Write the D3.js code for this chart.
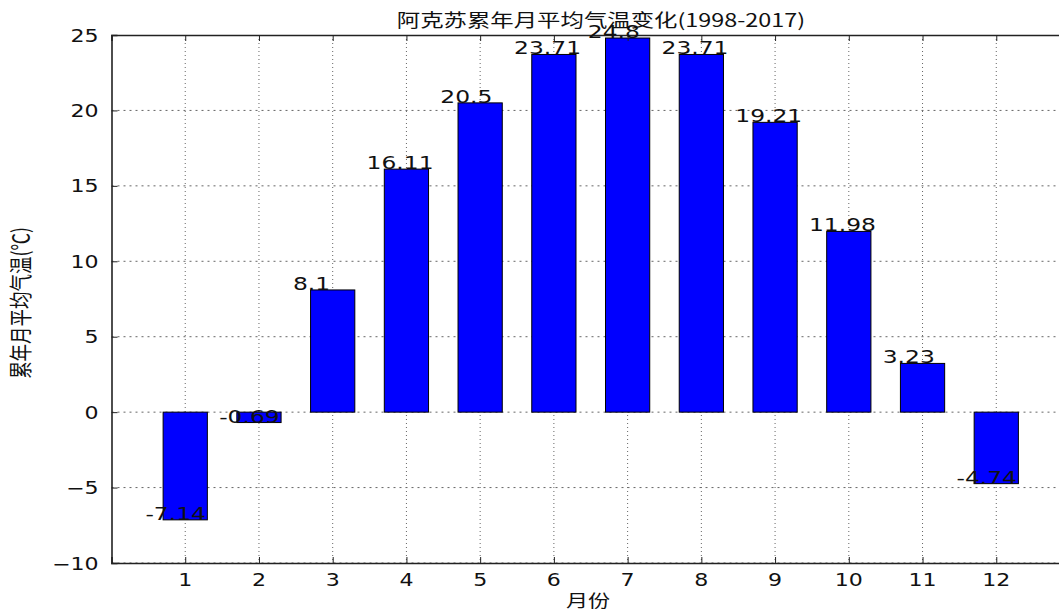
<!DOCTYPE html>
<html>
<head>
<meta charset="utf-8">
<script src="https://cdn.jsdelivr.net/npm/d3@7"></script>
<style>
  html, body { margin: 0; padding: 0; background: #fff; }
  svg { display: block; }
</style>
</head>
<body>
<svg id="chart" width="1059" height="611"></svg>
<script>
// Monthly mean temperature, Aksu, 1998-2017
const months = [1, 2, 3, 4, 5, 6, 7, 8, 9, 10, 11, 12];
const temps = [-7.14, -0.69, 8.1, 16.11, 20.5, 23.71, 24.8, 23.71, 19.21, 11.98, 3.23, -4.74];
const yTicks = [-10, -5, 0, 5, 10, 15, 20, 25];
const titleText = "阿克苏累年月平均气温变化(1998-2017)";
const xLabel = "月份";
const yLabel = "累年月平均气温(℃)";

const plotLeft = 111.5, plotRight = 1070, plotTop = 35, plotBottom = 563;
const SX = 1.3; // horizontal text stretch
const latin = "'DejaVu Sans', sans-serif";
const cjk = "'Noto Sans CJK SC', 'DejaVu Sans', sans-serif";

const svg = d3.select("#chart");
const x = d3.scaleLinear().domain([0, 13]).range([plotLeft, plotRight]);
const y = d3.scaleLinear().domain([-10, 25]).range([plotBottom, plotTop]);
const barW = x(0.6) - x(0);

function stretchedText(g, tx, ty, str, opts) {
  return g.append("text")
    .attr("transform", `translate(${tx},${ty}) scale(${SX},1)`)
    .attr("text-anchor", opts.anchor || "start")
    .attr("font-family", opts.family || latin)
    .attr("font-size", opts.size)
    .attr("fill", opts.fill || "#111")
    .text(str);
}

// clip for plot region (extends past the right edge)
svg.append("defs").append("clipPath").attr("id", "plotClip")
  .append("rect").attr("x", plotLeft).attr("y", plotTop)
  .attr("width", plotRight - plotLeft).attr("height", plotBottom - plotTop);

const plot = svg.append("g").attr("clip-path", "url(#plotClip)");

// grid
plot.append("g").selectAll("line").data(yTicks).join("line")
  .attr("x1", plotLeft).attr("x2", plotRight)
  .attr("y1", d => y(d)).attr("y2", d => y(d))
  .attr("stroke", "#666").attr("stroke-width", 1).attr("stroke-dasharray", "2,4");
plot.append("g").selectAll("line").data(months).join("line")
  .attr("x1", d => x(d)).attr("x2", d => x(d))
  .attr("y1", plotTop).attr("y2", plotBottom)
  .attr("stroke", "#666").attr("stroke-width", 1).attr("stroke-dasharray", "1,3");

// bars
plot.append("g").selectAll("rect").data(months).join("rect")
  .attr("x", d => x(d) - barW / 2)
  .attr("width", barW)
  .attr("y", (d, i) => y(Math.max(0, temps[i])))
  .attr("height", (d, i) => Math.abs(y(temps[i]) - y(0)))
  .attr("fill", "#0000ff")
  .attr("stroke", "#000").attr("stroke-width", 1);

// axes
const yAxis = d3.axisLeft(y).tickValues(yTicks).tickSize(-6).tickFormat("");
const xAxisB = d3.axisBottom(x).tickValues(months).tickSize(-6).tickFormat("");
const xAxisT = d3.axisTop(x).tickValues(months).tickSize(-6).tickFormat("");
[svg.append("g").attr("transform", `translate(${plotLeft},0)`).call(yAxis),
 svg.append("g").attr("transform", `translate(0,${plotBottom})`).call(xAxisB),
 svg.append("g").attr("transform", `translate(0,${plotTop})`).call(xAxisT)]
 .forEach(g => {
   g.select(".domain").attr("stroke", "#222").attr("stroke-width", 1.6);
   g.selectAll(".tick line").attr("stroke", "#222").attr("stroke-width", 1);
 });

// tick labels
const fmt = d => (d < 0 ? "\u2212" + Math.abs(d) : String(d));
yTicks.forEach(d => stretchedText(svg, plotLeft - 13, y(d) + 6.5, fmt(d), { anchor: "end", size: 17 }));
months.forEach(d => stretchedText(svg, x(d), 586, String(d), { anchor: "middle", size: 17 }));

// value labels
months.forEach((d, i) =>
  stretchedText(svg, x(d - 0.54), y(temps[i]), String(temps[i]), { anchor: "start", size: 18 }));

// title and axis labels
stretchedText(svg, 601, 27, titleText, { anchor: "middle", size: 18, family: cjk });
stretchedText(svg, 588, 607, xLabel, { anchor: "middle", size: 17, family: cjk });
svg.append("text")
  .attr("transform", `translate(29,303) scale(${SX},1) rotate(-90)`)
  .attr("text-anchor", "middle")
  .attr("font-family", cjk)
  .attr("font-size", 17.5)
  .attr("fill", "#111")
  .text(yLabel);
</script>
</body>
</html>
